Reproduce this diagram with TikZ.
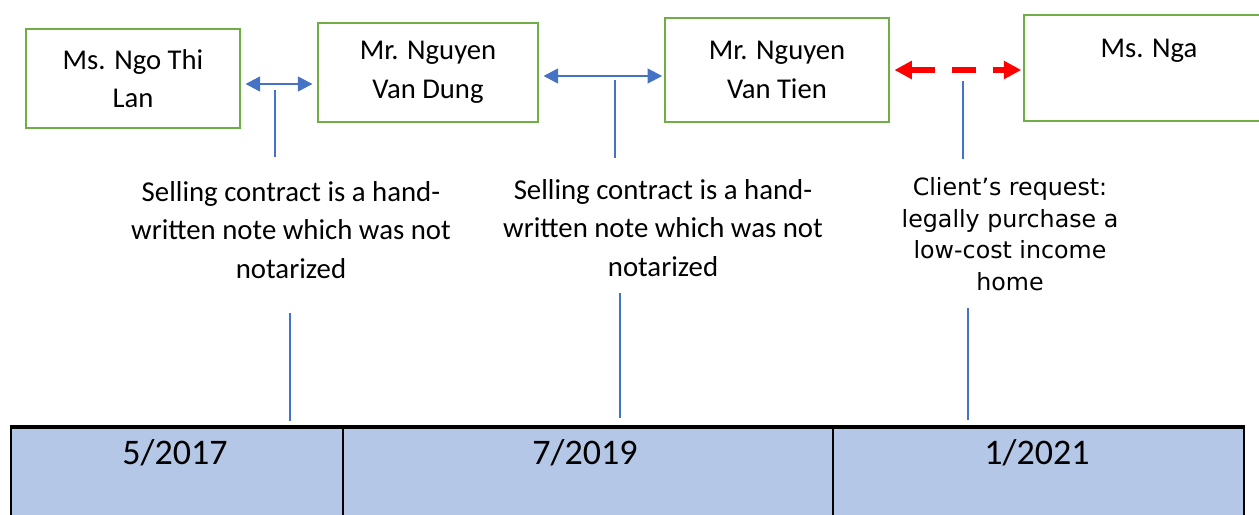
\documentclass[tikz,border=0pt]{standalone}
\usepackage{fontspec}
\setmainfont{Carlito}
\newfontfamily\verdfont{DejaVu Sans}
\usetikzlibrary{arrows.meta}
\definecolor{boxgreen}{HTML}{70AD47}
\definecolor{linkblue}{HTML}{4472C4}
\definecolor{cellblue}{HTML}{B4C7E7}
\newcommand\pxu{0.75pt}

\begin{document}
\begin{tikzpicture}[x=0.75pt,y=-0.75pt,
    person/.style={draw=boxgreen,line width=2.2pt,align=center,inner sep=0pt,
        font=\fontsize{21.5}{29}\selectfont},
    link/.style={linkblue,line width=1.8pt,
        {Triangle[length=11pt,width=11pt]}-{Triangle[length=11pt,width=11pt]}},
    request/.style={red,line width=4.2pt,dash pattern=on 18pt off 13pt,
        {Triangle[length=13pt,width=13pt]}-{Triangle[length=13pt,width=13pt]}},
    stem/.style={linkblue,line width=1.4pt},
    note/.style={align=center,font=\fontsize{21.6}{29}\selectfont},
    cell/.style={draw=black,line width=1.5pt,fill=cellblue,anchor=north west,inner sep=0pt},
    date/.style={font=\fontsize{27}{32}\selectfont}]
    \useasboundingbox (0,0) rectangle (1259,514);

    \node[person,minimum width=214*\pxu,minimum height=99*\pxu] (lan) at (133,78.5) {Ms. Ngo Thi\\Lan};
    \node[person,minimum width=220*\pxu,minimum height=99*\pxu] (dung) at (428,72.5) {Mr. Nguyen\\Van Dung};
    \node[person,minimum width=224*\pxu,minimum height=104*\pxu] (tien) at (777,70) {Mr. Nguyen\\Van Tien};
    \node[person,minimum width=250*\pxu,minimum height=106*\pxu] (nga) at (1149,68) {Ms. Nga\\~};

    \draw[link,shorten <=3pt,shorten >=3pt] (lan.east |- 0,84) to (dung.west |- 0,84);
    \draw[link,shorten <=3pt,shorten >=1pt] (dung.east |- 0,76) to (tien.west |- 0,76);
    \draw[request,shorten <=3pt,shorten >=1pt] (tien.east |- 0,70) to (nga.west |- 0,70);

    \node[note] (n1) at (291,230) {Selling contract is a hand-\\written note which was not\\notarized};
    \node[note] (n2) at (663,228) {Selling contract is a hand-\\written note which was not\\notarized};
    \node[align=center,font=\verdfont\fontsize{17.8}{23.6}\selectfont] (n3) at (1010,234)
        {Client’s request:\\legally purchase a\\low-cost income\\home};

    \node[cell,minimum width=332*\pxu,minimum height=100*\pxu] (c1) at (10,427) {};
    \node[cell,minimum width=490*\pxu,minimum height=100*\pxu] (c2) at (342,427) {};
    \node[cell,minimum width=411*\pxu,minimum height=100*\pxu] (c3) at (832,427) {};
    \draw[line width=2.4pt] (c1.north west) -- (c3.north east);
    \node[date] (d1) at (175,453) {5/2017};
    \node[date] (d2) at (585,453) {7/2019};
    \node[date] (d3) at (1037,453) {1/2021};

    % stems from the arrows to the notes and from the notes to the dates
    \coordinate (t1) at (275,90);  \coordinate (u1) at (275,157);
    \coordinate (t2) at (615,80);  \coordinate (u2) at (615,158);
    \coordinate (t3) at (963,81);  \coordinate (u3) at (963,159);
    \coordinate (v1) at (290,313); \coordinate (w1) at (290,421);
    \coordinate (v2) at (620,293); \coordinate (w2) at (620,418);
    \coordinate (v3) at (968,308); \coordinate (w3) at (968,420);
    \foreach \i in {1,2,3} {
        \draw[stem] (t\i) -- (u\i);
        \draw[stem] (v\i) -- (w\i);
    }
\end{tikzpicture}
\end{document}
